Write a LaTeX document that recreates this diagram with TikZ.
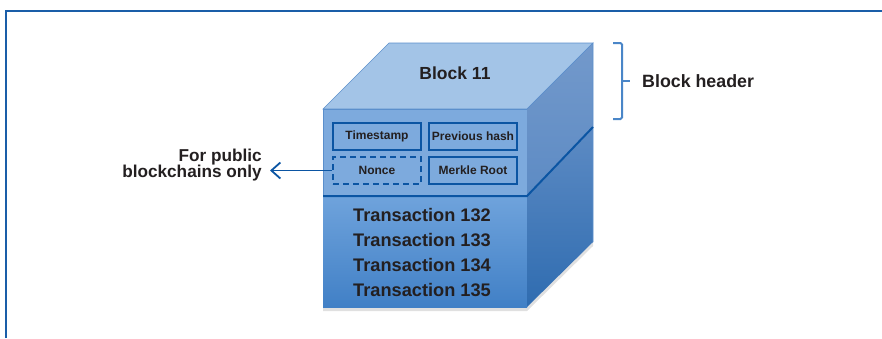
\documentclass[tikz,border=0pt]{standalone}
\usepackage{fontspec}
\setmainfont{Liberation Sans}
\usetikzlibrary{arrows.meta, positioning}
\definecolor{frameblue}{HTML}{1A5EA8}
\definecolor{lineblue}{HTML}{0B55A3}
\definecolor{braceblue}{HTML}{4A86C8}
\definecolor{edgeblue}{HTML}{5B8FCC}
\definecolor{topface}{HTML}{A3C4E7}
\definecolor{headface}{HTML}{7DAADD}
\definecolor{bodytop}{HTML}{6FA3DC}
\definecolor{bodybot}{HTML}{4180C6}
\definecolor{sidetop}{HTML}{7399CB}
\definecolor{sidemid}{HTML}{5D8BC4}
\definecolor{sidebot}{HTML}{2F6CB0}
\definecolor{txt}{HTML}{231F20}

\tikzset{
  field/.style={draw=lineblue, line width=1.8pt, minimum width=88pt, minimum height=27pt,
    inner sep=0pt, text=txt, font=\fontsize{12}{13}\selectfont\bfseries},
  biglabel/.style={text=txt, inner sep=0pt, font=\fontsize{17.8}{17.8}\selectfont\bfseries},
  facet/.style={draw=edgeblue, line width=0.6pt}
}

\begin{document}
\begin{tikzpicture}[x=1pt, y=-1pt]
\useasboundingbox (0,0) rectangle (882,338);
\draw[frameblue, line width=1.5pt] (6,338) -- (6,11) -- (882,11);

% corners of the block
\coordinate (ftl) at (323,109);
\coordinate (ftr) at (527,109);
\coordinate (btr) at (593,43);
\coordinate (btl) at (389,43);
\coordinate (fbl) at (323,307);
\coordinate (fbr) at (527,307);
\coordinate (bbr) at (593,242);
\coordinate (hl) at (323,196);
\coordinate (hr) at (527,196);
\coordinate (hb) at (593,127);

% shadow
\fill[black, opacity=0.12] ([yshift=-4pt]fbl) -- ([yshift=-4pt]fbr) -- ([yshift=-4pt]bbr) -- (bbr) -- (fbr) -- (fbl) -- cycle;

\fill[topface, facet] (ftl) -- (btl) -- (btr) -- (ftr) -- cycle;
\fill[headface, facet] (ftl) rectangle (hr);
\shade[top color=bodytop, bottom color=bodybot] (hl) rectangle (fbr);
\shade[top color=sidetop, bottom color=sidemid] (ftr) -- (btr) -- (hb) -- (hr) -- cycle;
\shade[top color=sidemid, bottom color=sidebot] (hr) -- (hb) -- (bbr) -- (fbr) -- cycle;
\draw[edgeblue, line width=0.6pt] (ftr) -- (btr) -- (bbr);
\draw[lineblue, line width=2pt] (hl) -- (hr) -- (hb);

\node[biglabel, font=\fontsize{17.5}{17.5}\selectfont\bfseries] (blk) at (455,73) {Block 11};

\node[field] (ts) at (377,136.5) {Timestamp};
\node[field] (ph) at (473,136.5) {Previous hash};
\node[field, dash pattern=on 6pt off 4pt] (nonce) at (377,170.5) {Nonce};
\node[field] (mr) at (473,170.5) {Merkle Root};

\foreach \n/\y in {132/215, 133/240, 134/265, 135/290}
    \node[biglabel, font=\fontsize{18.2}{18.2}\selectfont\bfseries] (t\n) at (422,\y) {Transaction \n};

\node[biglabel, align=right, anchor=east, font=\fontsize{17.2}{16.5}\selectfont\bfseries] (pub) at (262,165) {For public\\blockchains only};
\draw[-{Straight Barb[length=9pt, width=16pt, line width=1.8pt]}, lineblue, line width=1.6pt]
    (nonce.west) -- ([xshift=8pt]pub.east |- nonce.west);

% header brace
\draw[braceblue, line width=2pt, rounded corners=1.5pt] (613,43) -| (622,119) -- (613,119);
\draw[braceblue, line width=2pt] (622,81) coordinate (tip) -- (630,81);
\node[biglabel, anchor=west] (hdr) at (642,81) {Block header};
\end{tikzpicture}
\end{document}
